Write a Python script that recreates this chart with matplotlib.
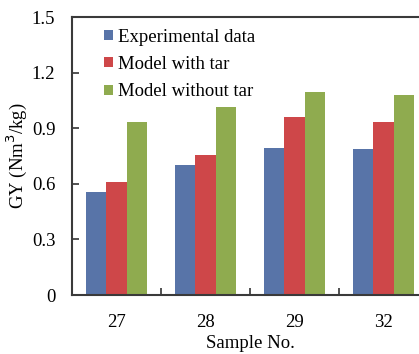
import matplotlib
matplotlib.use("Agg")
import matplotlib.pyplot as plt
import numpy as np

plt.rcParams['font.family'] = ['Liberation Serif', 'DejaVu Serif']

samples = ["27", "28", "29", "32"]
experimental = [0.556, 0.700, 0.795, 0.786]
model_with_tar = [0.610, 0.755, 0.958, 0.934]
model_without_tar = [0.932, 1.015, 1.095, 1.079]
series_names = ["Experimental data", "Model with tar", "Model without tar"]
colors = ["#5874A8", "#CE4749", "#8FAB4F"]

W, H = 419, 354
fig = plt.figure(figsize=(W / 100, H / 100), dpi=100)
ax = fig.add_axes([72 / W, (H - 295) / H, 356 / W, 278 / H])

x = np.arange(len(samples))
bw = 0.225
for i, (vals, name, c) in enumerate(zip([experimental, model_with_tar, model_without_tar], series_names, colors)):
    ax.bar(x + (i - 1) * bw, vals, width=bw, color=c, label=name, zorder=2)

fs = 13.5
ax.set_xlim(-0.5, len(samples) - 0.5)
ax.set_ylim(0, 1.5)
ax.set_yticks([0, 0.3, 0.6, 0.9, 1.2, 1.5])
ax.set_yticklabels(["0", "0.3", "0.6", "0.9", "1.2", "1.5"])
ax.set_xticks(x)
ax.set_xticklabels(samples)
ax.set_xticks(np.arange(len(samples) + 1) - 0.5, minor=True)
ax.tick_params(axis='x', which='major', length=0, pad=14, labelsize=fs)
ax.tick_params(axis='x', which='minor', direction='in', length=5, width=1.2, color="#333333")
ax.tick_params(axis='y', direction='in', length=5, width=1.2, color="#333333", labelsize=fs, pad=12)

for s in ax.spines.values():
    s.set_color("#3a3a3a")
    s.set_linewidth(1.5)

ax.set_xlabel("Sample No.", fontsize=fs, labelpad=2.5)
ax.set_ylabel("GY (Nm$^3$/kg)", fontsize=fs)
ax.yaxis.set_label_coords(-43 / 356, 0.5)

leg = ax.legend(loc="upper left", bbox_to_anchor=(0.07, 0.985), frameon=False,
                fontsize=fs, handlelength=0.45, handleheight=0.45,
                handletextpad=0.3, labelspacing=0.55, borderaxespad=0)

fig.savefig("out.png", dpi=100)
